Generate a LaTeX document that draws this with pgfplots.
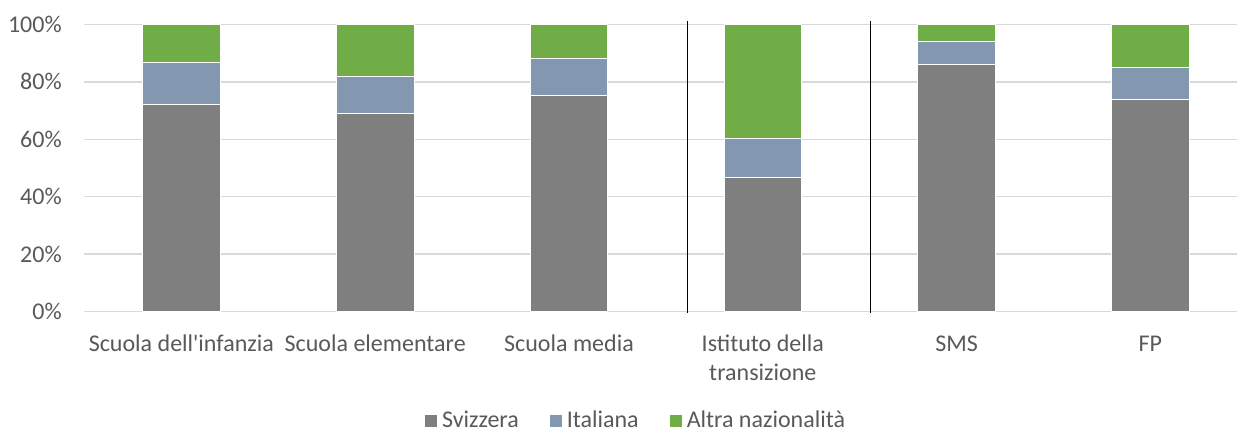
\documentclass[border=0pt]{standalone}
\usepackage{fontspec}
\setmainfont{Carlito}[Ligatures=TeXOff]
\usepackage{pgfplots}
\pgfplotsset{compat=1.18}
\definecolor{svz}{HTML}{7F7F7F}
\definecolor{ita}{HTML}{8497B0}
\definecolor{alt}{HTML}{70AD47}
\definecolor{txt}{HTML}{595959}
\definecolor{grd}{HTML}{D9D9D9}
\newcommand{\lbl}{\fontsize{12}{14.5}\selectfont}
\begin{document}
\begin{tikzpicture}
\begin{axis}[
  at={(42.25pt,60.15pt)}, anchor=south west,
  width=576.25pt, height=143.7pt, scale only axis,
  ybar stacked, bar width=0.4,
  xmin=-0.5, xmax=5.447, ymin=0, ymax=100,
  enlargelimits=false,
  axis line style={draw=none},
  major tick length=0,
  ytick={0,20,...,100},
  yticklabels={0\%,20\%,40\%,60\%,80\%,100\%},
  ymajorgrids, grid style={grd, line width=0.75pt},
  xtick={0,...,5},
  xticklabels={{\strut Scuola dell'infanzia},{\strut Scuola elementare},{\strut Scuola media},{\strut Istituto della\\transizione},{\strut SMS},{\strut FP}},
  xticklabel style={align=center, anchor=north, inner sep=0pt, yshift=-9.5pt, font=\lbl, text=txt},
  yticklabel style={anchor=east, inner sep=0pt, xshift=-11.2pt, font=\lbl, text=txt},
  legend style={at={(0.479,-0.380)}, anchor=center, draw=none, fill=none, legend columns=3, font=\lbl, text=txt, /tikz/every even column/.append style={column sep=13pt}, inner sep=0pt, nodes={inner ysep=1pt, inner xsep=2pt}},
  legend image code/.code={\fill[#1] (0pt,-3.3pt) rectangle (6.6pt,3.3pt);},
  clip=false,
]
\addplot[fill=svz, draw=white, line width=0.4pt] coordinates {(0,72.2) (1,69.0) (2,75.3) (3,46.6) (4,86.1) (5,73.9)};
\addplot[fill=ita, draw=white, line width=0.4pt] coordinates {(0,14.6) (1,13.0) (2,12.8) (3,13.6) (4,8.1) (5,11.1)};
\addplot[fill=alt, draw=white, line width=0.4pt] coordinates {(0,13.2) (1,18.0) (2,11.9) (3,39.8) (4,5.8) (5,15.0)};
\legend{Svizzera, Italiana, Altra nazionalità}
\draw[black, line width=0.7pt] (axis cs:2.613,-0.45) -- (axis cs:2.613,101.15);
\draw[black, line width=0.7pt] (axis cs:3.557,-0.45) -- (axis cs:3.557,101.15);
\end{axis}
\pgfresetboundingbox
\useasboundingbox (0,0) rectangle (618.5pt,216pt);
\end{tikzpicture}
\end{document}
